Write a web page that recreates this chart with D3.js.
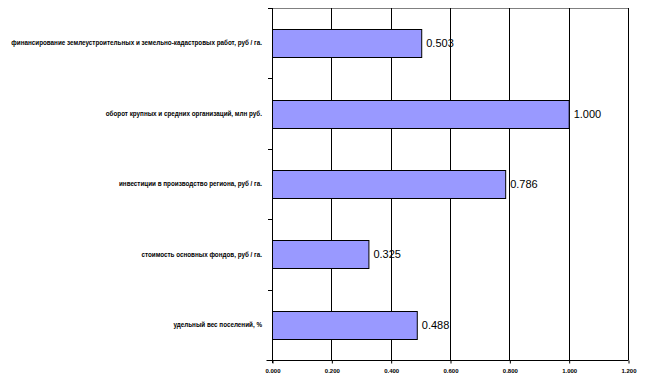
<!DOCTYPE html>
<html>
<head>
<meta charset="utf-8">
<script src="https://cdn.jsdelivr.net/npm/d3@7"></script>
<style>
  body { margin: 0; background: #fff; }
  svg { display: block; }
</style>
</head>
<body>
<script>
// data
const categories = [
    "финансирование землеустроительных и земельно-кадастровых работ, руб / га.",
    "оборот крупных и средних организаций, млн руб.",
    "инвестиции в производство региона, руб / га.",
    "стоимость основных фондов, руб / га.",
    "удельный вес поселений, %"
];
const values = [0.503, 1.000, 0.786, 0.325, 0.488];
const xTicks = [0, 0.2, 0.4, 0.6, 0.8, 1.0, 1.2];

const width = 650, height = 384;
const margin = { top: 8, right: 22, bottom: 24, left: 272 };

const svg = d3.select("body").append("svg")
    .attr("width", width)
    .attr("height", height);

const x = d3.scaleLinear()
    .domain([0, 1.2])
    .range([margin.left, width - margin.right]);

const y = d3.scaleBand()
    .domain(categories)
    .range([margin.top, height - margin.bottom])
    .paddingInner(0.6)
    .paddingOuter(0.3);

const yBounds = d3.scaleLinear()
    .domain([0, categories.length])
    .range([margin.top, height - margin.bottom]);

// value labels (under the grid, as in the original)
svg.append("g")
    .selectAll("text")
    .data(values)
    .enter()
    .append("text")
    .attr("x", d => x(d) + 5)
    .attr("y", (d, i) => y(categories[i]) + y.bandwidth() / 2)
    .attr("dy", "0.36em")
    .attr("font-family", "'Liberation Sans', Arial, sans-serif")
    .attr("font-size", 11)
    .attr("fill", "#000")
    .text(d => d.toFixed(3));

// top border
svg.append("line")
    .attr("x1", x(0)).attr("x2", x(1.2))
    .attr("y1", margin.top + 0.5).attr("y2", margin.top + 0.5)
    .attr("stroke", "#808080");

// vertical grid
svg.append("g")
    .selectAll("line")
    .data(xTicks.slice(1))
    .enter()
    .append("line")
    .attr("x1", d => Math.round(x(d)) + 0.5)
    .attr("x2", d => Math.round(x(d)) + 0.5)
    .attr("y1", margin.top)
    .attr("y2", height - margin.bottom)
    .attr("stroke", "#000");

// bars
svg.append("g")
    .selectAll("rect")
    .data(values)
    .enter()
    .append("rect")
    .attr("x", x(0) + 0.5)
    .attr("y", (d, i) => Math.round(y(categories[i])) + 0.5)
    .attr("width", d => x(d) - x(0))
    .attr("height", Math.round(y.bandwidth()))
    .attr("fill", "#9999ff")
    .attr("stroke", "#000");

// x axis
const xAxis = d3.axisBottom(x)
    .tickValues(xTicks)
    .tickSize(3)
    .tickFormat(d3.format(".3f"));

const gx = svg.append("g")
    .attr("transform", `translate(0.5,${height - margin.bottom + 0.5})`)
    .call(xAxis);
gx.select(".domain").attr("d", `M${x(0) - 6},0H${x(1.2)}`);
gx.selectAll(".tick line").attr("stroke", "#000");
gx.selectAll(".tick text")
    .attr("y", 8)
    .attr("font-family", "'Liberation Sans', Arial, sans-serif")
    .attr("font-size", 6)
    .attr("font-weight", "bold")
    .attr("fill", "#000");

// y axis
svg.append("line")
    .attr("x1", x(0) + 0.5).attr("x2", x(0) + 0.5)
    .attr("y1", margin.top).attr("y2", height - margin.bottom + 3)
    .attr("stroke", "#000");

svg.append("g")
    .selectAll("line")
    .data(d3.range(categories.length))
    .enter()
    .append("line")
    .attr("x1", x(0) - 4).attr("x2", x(0))
    .attr("y1", d => Math.round(yBounds(d)) + 0.5)
    .attr("y2", d => Math.round(yBounds(d)) + 0.5)
    .attr("stroke", "#000");

svg.append("g")
    .selectAll("text")
    .data(categories)
    .enter()
    .append("text")
    .attr("x", x(0) - 10)
    .attr("y", d => y(d) + y.bandwidth() / 2)
    .attr("dy", "0.36em")
    .attr("text-anchor", "end")
    .attr("font-family", "'Liberation Sans', Arial, sans-serif")
    .attr("font-size", 6.3)
    .attr("font-weight", "bold")
    .attr("fill", "#000")
    .text(d => d);
</script>
</body>
</html>
